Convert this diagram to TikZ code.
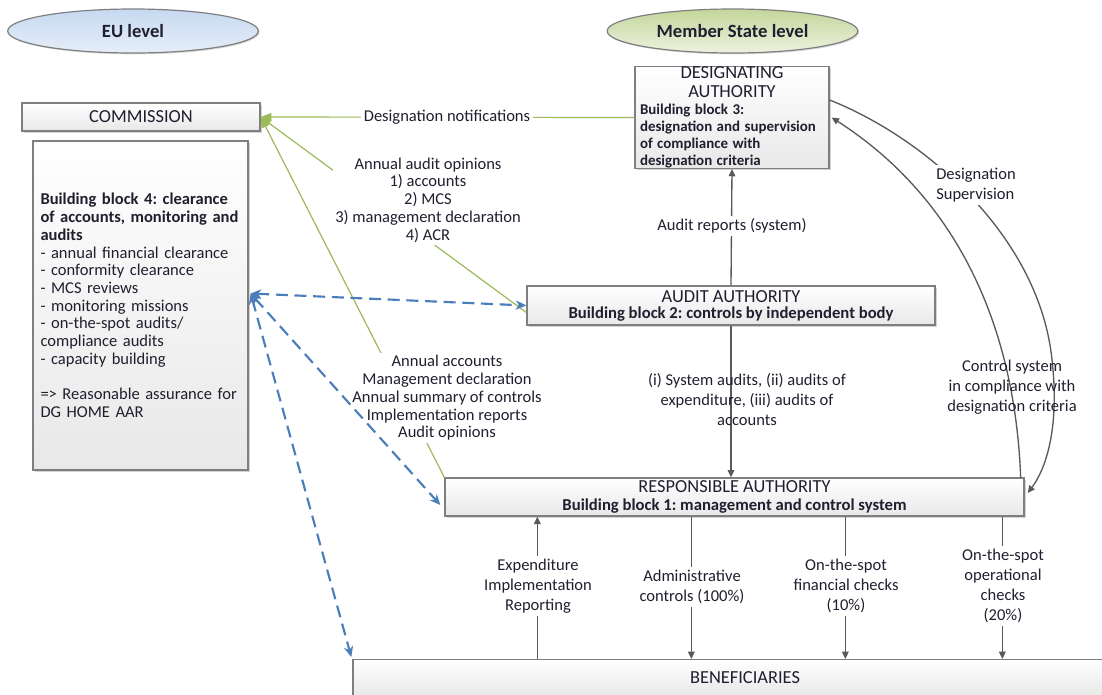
\documentclass[tikz,border=0pt]{standalone}
\usepackage{fontspec}
\setmainfont{Carlito}
\usetikzlibrary{arrows.meta,shadows,calc,shapes.geometric}
\definecolor{grn}{HTML}{9BBB59}
\definecolor{blu}{HTML}{4A7EBB}
\definecolor{dgray}{HTML}{595959}
\definecolor{txt}{HTML}{1F1F2F}
\definecolor{bord}{HTML}{7F7F7F}
\definecolor{eutop}{HTML}{C6D9F1}
\definecolor{eubot}{HTML}{E6EEF8}
\definecolor{mstop}{HTML}{C3D69B}
\definecolor{msbot}{HTML}{EDF2E0}
\newcommand\rgf{\fontsize{12.4}{15}\selectfont}
\newcommand\rgt{\fontsize{12.4}{13.3}\selectfont}
\newcommand\bdf{\fontsize{12.5}{13.3}\selectfont\bfseries}
\newcommand\ttf{\fontsize{13.8}{14.25}\selectfont}
\frenchspacing
\begin{document}
\begin{tikzpicture}[x=0.75pt,y=-0.75pt,
  box/.style={draw=bord, line width=1pt, top color=white, bottom color=black!9,
    drop shadow={shadow xshift=1.2pt,shadow yshift=-1.2pt,opacity=0.35},
    inner sep=0pt, text=txt, align=center},
  ell/.style={ellipse, draw=bord, line width=0.9pt, text=txt, font=\fontsize{14}{15}\selectfont\bfseries,
    drop shadow={shadow xshift=1pt,shadow yshift=-1pt,opacity=0.3},
    minimum width=188pt, minimum height=33pt},
  lbl/.style={text=txt, font=\rgf, align=center, inner sep=2pt},
  glbl/.style={text=txt, font=\rgt, align=center, inner sep=2pt, fill=white},
  garrow/.style={draw=grn, line width=0.9pt, -{Triangle[length=8pt,width=6pt]}},
  bdash/.style={draw=blu, line width=1.6pt, dash pattern=on 9pt off 5pt,
    {Stealth[length=8pt,width=7pt]}-{Stealth[length=8pt,width=7pt]}},
  darrow/.style={draw=dgray, line width=1pt, -{Triangle[length=5.5pt,width=5pt]}}
]
\useasboundingbox (0,0) rectangle (1102,694);
\clip (0,0) rectangle (1102,694);

% level ellipses
\node[ell, top color=eutop, bottom color=eubot] (eu) at (133,31) {EU level};
\node[ell, top color=mstop, bottom color=msbot] (ms) at (732.5,31) {Member State level};

% boxes
\node[box, minimum width=178.5pt, minimum height=21pt, font=\ttf] (comm) at (141,117) {COMMISSION};

\node[box, minimum width=161.25pt, minimum height=246.75pt, text width=150pt, inner xsep=5.6pt,
  align=left, font=\rgt] (bb4) at (140.5,305.5)
 {\textbf{Building block 4: clearance}\\
  \textbf{of accounts, monitoring and}\\
  \textbf{audits}\\
  - annual financial clearance\\
  - conformity clearance\\
  - MCS reviews\\
  - monitoring missions\\
  - on-the-spot audits/\\
  compliance audits\\
  - capacity building\\[13.3pt]
  => Reasonable assurance for\\
  DG HOME AAR};

\node[box, minimum width=145.5pt, minimum height=75.75pt, text width=138pt, inner xsep=3.75pt, align=left] (da) at (732,117.5)
 {{\centering\ttf DESIGNATING\\ AUTHORITY\par}
  {\raggedright\fontsize{11.2}{12.75}\selectfont\bfseries Building block 3:\\ designation and supervision\\ of compliance with\\ designation criteria\par}};

\node[box, minimum width=306pt, minimum height=29.25pt] (aa) at (731,305.5)
 {{\ttf AUDIT AUTHORITY}\\[0pt] {\bdf Building block 2: controls by independent body}};

\node[box, minimum width=434.25pt, minimum height=28.5pt] (ra) at (734.5,497)
 {{\ttf RESPONSIBLE AUTHORITY}\\[1pt] {\bdf Building block 1: management and control system}};

\node[box, minimum width=588pt, minimum height=27pt, anchor=north, font=\ttf] (ben) at (745,659) {BENEFICIARIES};

% green connectors to the Commission
\draw[garrow] (da.west) -- (comm.east);
\node[glbl] at (447,117) {Designation notifications};
\draw[garrow] ($(aa.west)+(0,7)$) -- (comm.east);
\node[glbl] at (428,200) {Annual audit opinions\\1) accounts\\2) MCS\\3) management declaration\\4) ACR};
\draw[garrow] (ra.north west) -- (comm.east);
\node[glbl] at (447,398) {Annual accounts\\Management declaration\\Annual summary of controls\\Implementation reports\\Audit opinions};

% blue dashed connectors
\coordinate (hub) at ($(bb4.east)+(2,-12)$);
\draw[bdash] (hub) -- (aa.west);
\draw[bdash] (hub) -- ($(ra.west)+(-4,8)$);
\draw[bdash] (hub) -- ($(ben.north west)+(-1,-2)$);

% audit authority links
\draw[darrow] (aa.north) -- (da.south);
\node[lbl, fill=white] at (732,226) {Audit reports (system)};
\draw[darrow] (aa.south) -- (aa.south |- ra.north);
\node[lbl] at (747,400) {(i) System audits, (ii) audits of\\expenditure, (iii) audits of\\accounts};

% designating authority curves
\draw[darrow] ($(da.east)+(0,-17.5)$) .. controls (930,140) and (1040,240) .. (1052,360)
   .. controls (1060,430) and (1045,470) .. ($(ra.east)+(3,-4)$);
\node[lbl, fill=white, align=left] at (976,185) {Designation\\Supervision};
\draw[darrow] ($(ra.north east)+(-4,0)$) .. controls (1015,330) and (960,200) .. ($(da.east)+(2,0)$);
\node[lbl] at (1012,387) {Control system\\in compliance with\\designation criteria};

% responsible authority <-> beneficiaries
\path (ra.south west) ++(93,0) coordinate (r1)
      (ra.south west) ++(247,0) coordinate (r2)
      (ra.south west) ++(401,0) coordinate (r3)
      (ra.south west) ++(558,0) coordinate (r4);
\draw[darrow] (r1 |- ben.north) -- (r1);
\node[lbl, fill=white] at (538,586) {Expenditure\\Implementation\\Reporting};
\draw[darrow] (r2) -- (r2 |- ben.north);
\node[lbl, fill=white] at (692,587) {Administrative\\controls (100\%)};
\draw[darrow] (r3) -- (r3 |- ben.north);
\node[lbl, fill=white] at (846,586) {On-the-spot\\financial checks\\(10\%)};
\draw[darrow] (r4) -- (r4 |- ben.north);
\node[lbl, fill=white] at (1003,586) {On-the-spot\\operational\\checks\\(20\%)};
\end{tikzpicture}
\end{document}
